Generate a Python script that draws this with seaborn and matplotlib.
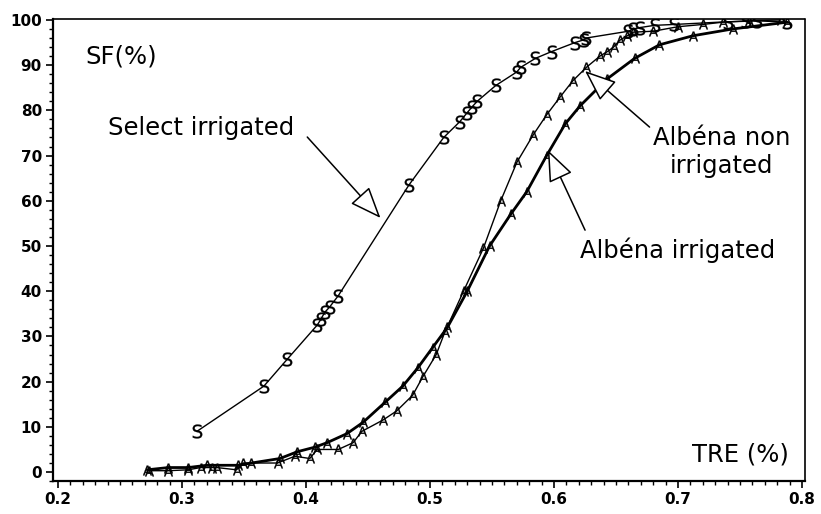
import pandas as pd
import matplotlib
matplotlib.use("Agg")
import matplotlib.pyplot as plt
from matplotlib.ticker import MultipleLocator
import seaborn as sns

# --- data (TRE fraction vs SF %) ---
select_x = [0.312, 0.366, 0.385, 0.409, 0.412, 0.415, 0.419, 0.426, 0.483, 0.511,
            0.524, 0.530, 0.534, 0.538, 0.553, 0.570, 0.573, 0.585, 0.598, 0.617,
            0.624, 0.626, 0.660, 0.664, 0.669, 0.681, 0.697, 0.740, 0.755, 0.764, 0.788]
select_y = [9, 19, 25, 32.5, 33.8, 35.3, 36.5, 39, 63.5, 74,
            77.5, 79.5, 80.8, 82, 85.5, 88.5, 89.5, 91.5, 93, 95,
            95.6, 96, 97.5, 98, 98.3, 98.8, 99, 99.6, 99.7, 99.8, 99.5]

alb_irr_x = [0.272, 0.289, 0.305, 0.320, 0.345, 0.356, 0.379, 0.393, 0.407, 0.417,
             0.433, 0.446, 0.464, 0.478, 0.490, 0.502, 0.514, 0.530, 0.548, 0.565,
             0.578, 0.594, 0.609, 0.621, 0.643, 0.665, 0.685, 0.712, 0.744, 0.788]
alb_irr_y = [0.5, 1, 1, 1.5, 1.5, 2, 3, 4.5, 5.5, 6.5,
             8.5, 11, 15.5, 19, 23, 27.5, 32, 40, 50, 57,
             62, 70, 77, 81, 87, 91.5, 94.5, 96.5, 98, 99.5]

alb_non_x = [0.273, 0.289, 0.305, 0.315, 0.324, 0.328, 0.344, 0.349, 0.377, 0.391,
             0.403, 0.409, 0.426, 0.438, 0.445, 0.462, 0.473, 0.486, 0.494, 0.505,
             0.512, 0.527, 0.543, 0.557, 0.570, 0.583, 0.594, 0.605, 0.615, 0.626,
             0.637, 0.643, 0.648, 0.653, 0.659, 0.664, 0.680, 0.700, 0.720, 0.736,
             0.757, 0.783]
alb_non_y = [0.3, 0.3, 0.5, 1, 1, 1, 0.5, 2, 2, 3.5,
             3, 5, 5, 6.5, 9, 11.5, 13.5, 17, 21, 26,
             31, 40, 49.5, 60, 68.5, 74.5, 79, 83, 86.5, 89.5,
             92, 93, 94, 95.5, 96.5, 97.3, 97.5, 98.5, 99, 99.5,
             99.8, 100]

x_ticks = [0.2, 0.3, 0.4, 0.5, 0.6, 0.7, 0.8]
y_ticks = [0, 10, 20, 30, 40, 50, 60, 70, 80, 90, 100]

sns.set_style("ticks")
plt.rcParams['font.family'] = ['DejaVu Sans']
plt.rcParams['text.color'] = 'black'
plt.rcParams['xtick.color'] = 'black'
plt.rcParams['ytick.color'] = 'black'
plt.rcParams['axes.edgecolor'] = 'black'

fig = plt.figure(figsize=(8.21, 5.14), dpi=100)
ax = fig.add_axes([0.0646, 0.064, 0.916, 0.899])

df_sel = pd.DataFrame({'TRE': select_x, 'SF': select_y})
df_irr = pd.DataFrame({'TRE': alb_irr_x, 'SF': alb_irr_y})
df_non = pd.DataFrame({'TRE': alb_non_x, 'SF': alb_non_y})

sns.lineplot(data=df_sel, x='TRE', y='SF', ax=ax, color='black', lw=1.0,
             estimator=None, marker=r'$\mathsf{S}$', markersize=10,
             mfc='black', mec='black', mew=0.2)
sns.lineplot(data=df_non, x='TRE', y='SF', ax=ax, color='black', lw=1.0,
             estimator=None, marker=r'$\mathsf{A}$', markersize=7,
             mfc='black', mec='black', mew=0.2)
sns.lineplot(data=df_irr, x='TRE', y='SF', ax=ax, color='black', lw=2.0,
             estimator=None, marker=r'$\mathsf{A}$', markersize=7,
             mfc='black', mec='black', mew=0.2)

ax.set_xlim(0.196, 0.8024)
ax.set_ylim(-2, 100.2)
ax.set_xticks(x_ticks)
ax.set_yticks(y_ticks)
ax.set_xticklabels([f"{v:.1f}" for v in x_ticks])
ax.xaxis.set_minor_locator(MultipleLocator(0.01))
ax.yaxis.set_minor_locator(MultipleLocator(2))
ax.tick_params(which='major', direction='out', length=5, width=1.2,
               labelsize=11, pad=3)
ax.tick_params(which='minor', direction='out', length=3, width=1)
for lab in ax.get_xticklabels() + ax.get_yticklabels():
    lab.set_fontweight('bold')
ax.set_xlabel('')
ax.set_ylabel('')

for side in ['left', 'bottom']:
    ax.spines[side].set_linewidth(1.6)
    ax.spines[side].set_color('black')
for side in ['top', 'right']:
    ax.spines[side].set_visible(True)
    ax.spines[side].set_linestyle((0, (1, 1)))
    ax.spines[side].set_linewidth(1.2)

fs = 17.5
ax.text(0.222, 91.8, 'SF(%)', fontsize=fs, ha='left', va='center')
ax.text(0.789, 3.8, 'TRE (%)', fontsize=fs, ha='right', va='center')

arrow = dict(arrowstyle='-|>,head_length=0.55,head_width=0.22',
             fc='white', ec='black', lw=1.1, mutation_scale=36, shrinkA=0, shrinkB=0)

ax.text(0.240, 76.1, 'Select irrigated', fontsize=fs, ha='left', va='center')
ax.annotate('', xy=(0.46, 56.2), xytext=(0.401, 74.1), arrowprops=arrow)

ax.text(0.735, 70.7, 'Albéna non\nirrigated', fontsize=fs, ha='center',
        va='center', linespacing=1.2)
ax.annotate('', xy=(0.625, 88.7), xytext=(0.677, 76.3), arrowprops=arrow)

ax.text(0.700, 49.1, 'Albéna irrigated', fontsize=fs, ha='center', va='center')
ax.annotate('', xy=(0.595, 71.2), xytext=(0.625, 53.5), arrowprops=arrow)

fig.savefig('out.png', dpi=100)
